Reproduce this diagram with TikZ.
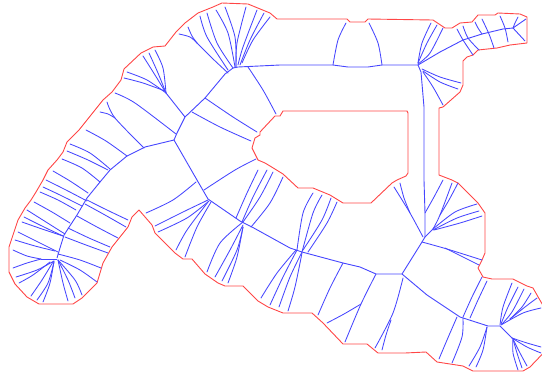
\documentclass[tikz,border=0pt]{standalone}
\usepackage{xcolor}
\usepackage{tikz}

\definecolor{outlinered}{RGB}{255,70,70}
\definecolor{axisblue}{RGB}{70,70,255}
\newcommand{\rib}[1]{\draw[rib] plot[smooth] coordinates {#1};}

\begin{document}
\begin{tikzpicture}[
    x=1pt, y=-1pt,
    outline/.style={draw=outlinered, line width=0.9pt, line join=round},
    axis/.style={draw=axisblue, line width=0.9pt, line join=round},
    rib/.style={draw=axisblue, line width=0.85pt, line cap=round}
]
\useasboundingbox (0,0) rectangle (542,373);

% outer boundary
\draw[outline] (79,130) -- (67,142) -- (63,152) -- (57,160) -- (48,170) -- (43,180) -- (36,192)
  -- (31,200) -- (25,208) -- (18,220) -- (13,235) -- (9,247) -- (9,272) -- (15,284) -- (27,297)
  -- (39,304) -- (73,304) -- (82,298) -- (97,283) -- (103,263) -- (112,247) -- (128,227)
  -- (132,217) -- (139,210) -- (152,225) -- (155,233) -- (175,253) -- (183,259) -- (192,259)
  -- (205,274) -- (218,283) -- (225,286) -- (243,286) -- (258,301) -- (268,307) -- (283,313)
  -- (312,313) -- (323,323) -- (343,344) -- (367,344) -- (378,353) -- (405,353) -- (426,352)
  -- (437,362) -- (463,366) -- (473,371) -- (523,371) -- (530,367) -- (552,344) -- (552,320)
  -- (541,302) -- (533,288) -- (527,286) -- (513,279) -- (492,279) -- (483,277) -- (478,268) -- (482,260)
  -- (485,253) -- (485,213) -- (478,203) -- (458,183) -- (452,180) -- (439,175) -- (439,108)
  -- (443,107) -- (460,92) -- (463,85) -- (463,61) -- (467,57) -- (473,55) -- (478,50)
  -- (497,48) -- (510,45) -- (527,43) -- (527,17) -- (520,14) -- (498,13) -- (495,15)
  -- (478,15) -- (472,22) -- (460,23) -- (452,28) -- (445,28) -- (433,20) -- (368,19)
  -- (365,22) -- (350,22) -- (347,19) -- (277,19) -- (270,13) -- (248,4) -- (222,3) -- (213,7)
  -- (198,13) -- (185,23) -- (176,32) -- (165,46) -- (153,47) -- (141,53) -- (124,69)
  -- (121,80) -- (112,92) -- (103,100) -- cycle;

% inner boundary
\draw[outline] (283,111) -- (407,111) -- (408,113) -- (408,173) -- (406,176) -- (397,180)
  -- (392,183) -- (371,203) -- (343,203) -- (330,195) -- (313,188) -- (298,188) -- (283,174)
  -- (270,166) -- (265,163) -- (258,160) -- (252,148) -- (255,138) -- (260,135) -- (260,132)
  -- (275,116) -- (280,116) -- cycle;

% main axis
\draw[axis] (57,258) -- (60,248) -- (64,235) -- (77,215) -- (87,198) -- (100,182) -- (110,170)
  -- (127,156) -- (145,147) -- (174,140) -- (177,133) -- (185,117) -- (205,98) -- (225,74)
  -- (233,68) -- (238,67) -- (280,65) -- (333,65) -- (348,67) -- (368,67) -- (382,65) -- (418,65);
\draw[axis] (174,140) -- (197,180) -- (208,199) -- (240,221) -- (252,227) -- (290,248)
  -- (302,252) -- (343,263) -- (360,267) -- (376,274) -- (402,274) -- (422,242) -- (425,237)
  -- (425,213) -- (424,180) -- (424,107) -- (421,72) -- (418,65);
\draw[axis] (402,274) -- (427,295) -- (460,317) -- (488,326) -- (500,326) -- (512,338);
\draw[axis] (418,65) -- (440,52) -- (463,40) -- (482,34) -- (503,29) -- (513,28) -- (526,19);
\draw[axis] (513,28) -- (525,41);
\draw[axis] (166,93) -- (185,117);
\draw[axis] (57,259) -- (41,259);

% ribs, lower left end and the long bend
\rib{(41,259)(27,256)(13,250)}
\rib{(41,259)(27,263)(13,268)}
\rib{(54,261)(37,270)(16,277)}
\rib{(50,262)(33,275)(19,283)}
\rib{(53,262)(42,280)(31,296)}
\rib{(54,262)(48,283)(37,300)}
\rib{(54,261)(50,283)(43,302)}
\rib{(58,260)(63,283)(68,301)}
\rib{(58,260)(68,280)(75,298)}
\rib{(58,260)(75,280)(82,295)}
\rib{(60,260)(80,270)(97,282)}
\rib{(58,254)(80,260)(101,268)}
\rib{(65,237)(86,245)(108,253)}
\rib{(68,228)(89,238)(110,247)}
\rib{(77,216)(97,227)(118,238)}
\rib{(85,204)(105,215)(126,227)}
\rib{(87,200)(107,210)(128,220)}
\rib{(70,144)(90,153)(110,169)}
\rib{(67,151)(88,160)(108,170)}
\rib{(62,159)(82,168)(100,182)}
\rib{(53,171)(70,181)(88,193)}
\rib{(46,180)(66,190)(87,201)}
\rib{(43,187)(60,195)(82,206)}
\rib{(40,192)(58,200)(76,210)}
\rib{(34,202)(52,212)(70,223)}
\rib{(27,210)(46,222)(65,234)}
\rib{(24,217)(44,227)(63,236)}
\rib{(22,222)(42,229)(63,236)}
\rib{(18,232)(38,242)(58,252)}
\rib{(15,240)(35,246)(55,251)}
\rib{(86,130)(106,141)(127,156)}
\rib{(107,102)(115,118)(144,148)}
\rib{(100,112)(108,114)(115,118)}

% ribs, upper bend
\rib{(115,93)(135,103)(176,134)}
\rib{(143,56)(155,75)(166,93)}
\rib{(149,53)(158,73)(166,93)}
\rib{(155,50)(163,68)(166,93)}
\rib{(127,72)(147,80)(166,93)}
\rib{(124,78)(143,83)(165,91)}
\rib{(179,34)(190,37)(197,43)}
\rib{(188,27)(192,36)(197,43)}
\rib{(197,43)(212,58)(228,73)}
\rib{(200,16)(207,37)(228,70)}
\rib{(207,13)(217,43)(233,68)}
\rib{(216,10)(228,33)(235,67)}
\rib{(225,7)(235,37)(236,67)}
\rib{(246,7)(237,43)(236,67)}
\rib{(257,10)(243,47)(238,65)}
\rib{(264,13)(250,40)(240,65)}
\rib{(270,17)(253,40)(242,63)}
\rib{(248,67)(263,90)(276,114)}
\rib{(205,98)(233,117)(257,132)}
\rib{(192,112)(220,127)(251,141)}

% ribs, top corridor and right tip
\rib{(333,65)(338,40)(346,23)}
\rib{(382,65)(378,43)(369,23)}
\rib{(418,63)(422,43)(431,23)}
\rib{(418,63)(427,43)(437,25)}
\rib{(418,64)(430,53)(443,28)}
\rib{(422,69)(440,77)(461,83)}
\rib{(423,71)(440,82)(458,89)}
\rib{(423,72)(433,87)(443,105)}
\rib{(457,29)(463,40)(473,55)}
\rib{(463,26)(468,38)(479,50)}
\rib{(475,22)(478,28)(482,34)}
\rib{(482,19)(489,34)(494,48)}
\rib{(500,16)(505,28)(508,42)}
\rib{(513,28)(515,23)(518,17)}

% ribs, lower corridor
\rib{(146,213)(173,200)(196,182)}
\rib{(204,190)(235,170)(256,159)}
\rib{(155,226)(183,212)(208,200)}
\rib{(158,232)(187,218)(209,201)}
\rib{(176,250)(187,230)(208,202)}
\rib{(185,257)(197,227)(211,202)}
\rib{(207,272)(220,243)(243,222)}
\rib{(215,277)(230,250)(243,225)}
\rib{(222,281)(237,250)(243,227)}
\rib{(228,283)(237,257)(243,227)}
\rib{(258,170)(247,193)(236,218)}
\rib{(267,170)(253,197)(242,222)}
\rib{(273,172)(260,197)(243,222)}
\rib{(283,177)(270,203)(251,227)}
\rib{(261,298)(277,273)(296,250)}
\rib{(270,305)(283,277)(297,250)}
\rib{(279,307)(290,277)(302,252)}
\rib{(288,311)(295,287)(302,253)}
\rib{(313,193)(303,213)(297,250)}
\rib{(322,195)(313,213)(302,252)}
\rib{(331,198)(322,220)(303,250)}
\rib{(337,202)(327,223)(308,252)}
\rib{(318,315)(330,288)(343,263)}
\rib{(327,323)(344,314)(361,304)}
\rib{(376,274)(361,304)(345,342)}
\rib{(403,278)(393,313)(375,348)}
\rib{(391,320)(386,335)(382,350)}

% ribs, right part
\rib{(394,187)(410,213)(423,237)}
\rib{(400,183)(404,198)(410,213)}
\rib{(425,213)(434,197)(443,180)}
\rib{(425,237)(429,233)(433,229)}
\rib{(433,229)(440,215)(452,183)}
\rib{(440,215)(449,200)(458,183)}
\rib{(433,229)(455,212)(477,204)}
\rib{(433,230)(457,218)(479,211)}
\rib{(434,230)(460,223)(482,216)}
\rib{(422,242)(447,249)(482,260)}
\rib{(445,248)(463,257)(479,265)}
\rib{(463,317)(472,297)(482,277)}
\rib{(470,318)(478,300)(487,281)}
\rib{(457,317)(447,340)(439,359)}
\rib{(463,318)(462,337)(452,363)}
\rib{(487,327)(480,347)(469,366)}
\rib{(487,327)(483,350)(476,367)}
\rib{(512,283)(503,307)(500,325)}
\rib{(518,287)(508,307)(501,324)}
\rib{(524,289)(512,312)(502,324)}
\rib{(531,293)(522,307)(510,319)}
\rib{(537,298)(525,307)(510,319)}
\rib{(541,308)(523,313)(501,325)}
\rib{(541,347)(527,343)(512,338)}
\rib{(541,353)(527,347)(512,338)}
\rib{(527,366)(520,353)(513,339)}
\rib{(522,368)(517,353)(513,339)}
\rib{(518,370)(513,353)(513,339)}
\end{tikzpicture}
\end{document}
